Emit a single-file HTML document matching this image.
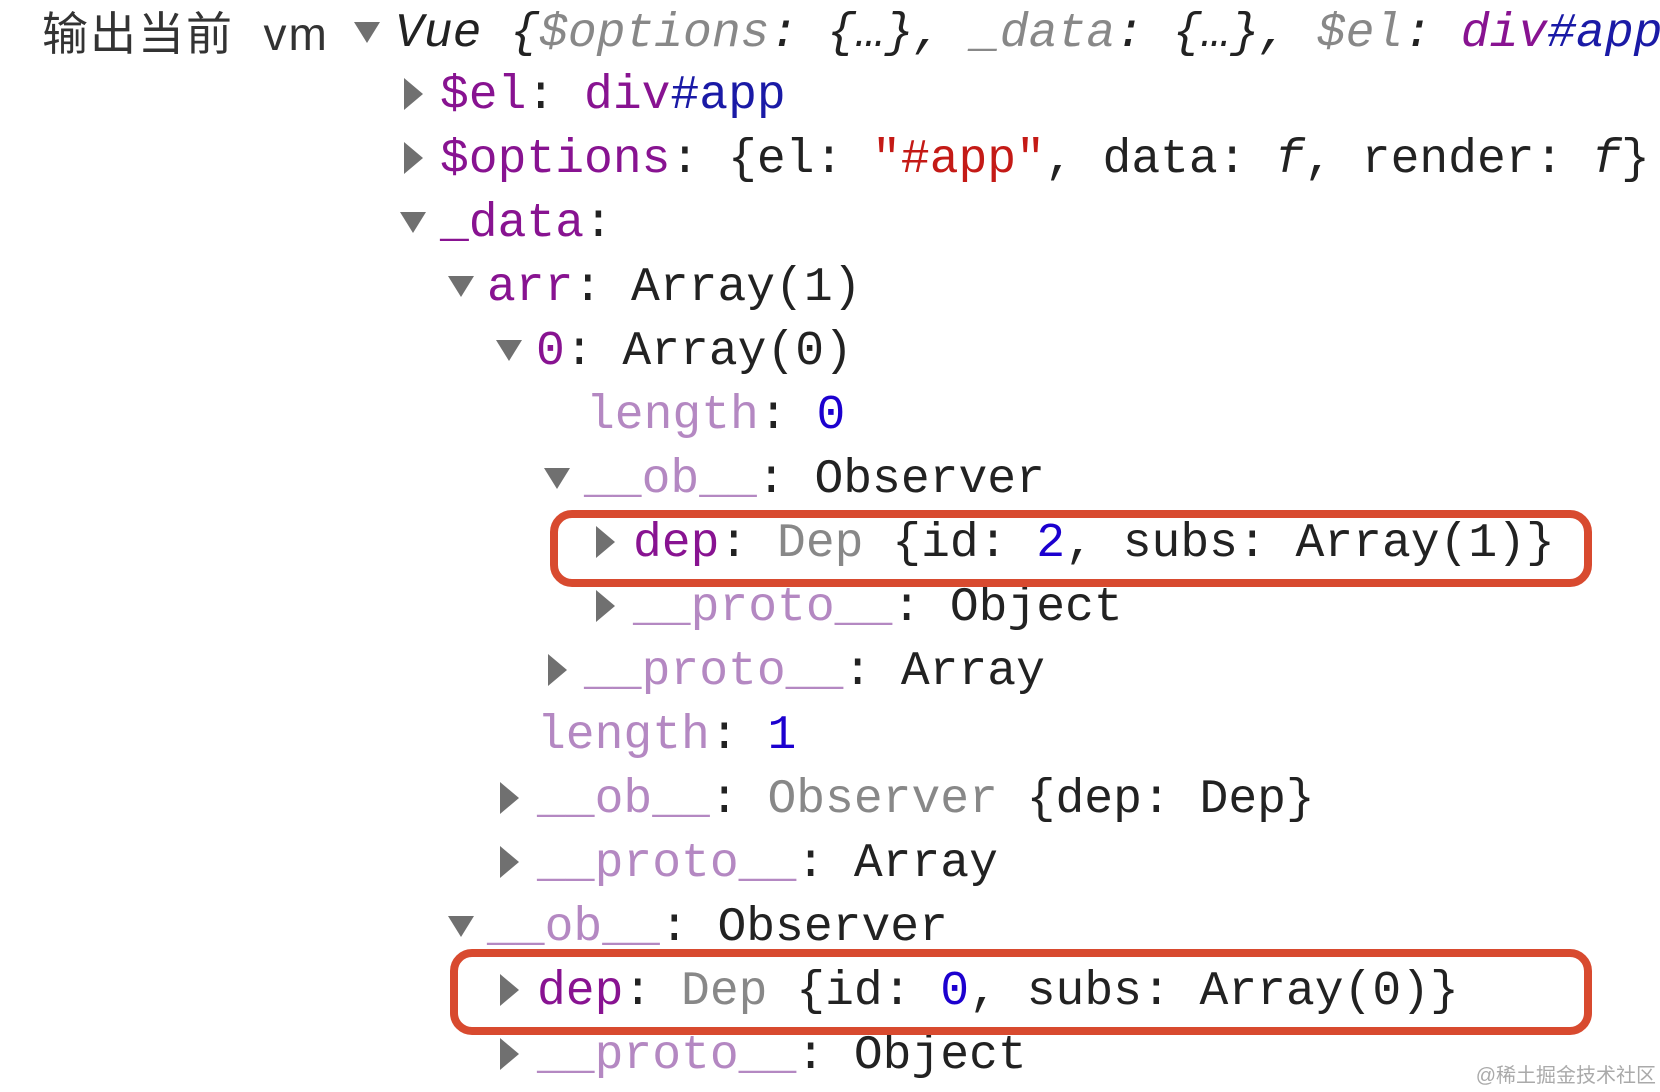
<!DOCTYPE html>
<html><head><meta charset="utf-8"><style>
body{margin:0;width:1660px;height:1092px;background:#fff;overflow:hidden;position:relative;font-family:"Liberation Mono","DejaVu Sans Mono",monospace;font-size:48px;letter-spacing:0px;}
.r{position:absolute;height:64px;line-height:64px;white-space:pre;color:#222;}
.k{color:#881391}.f{color:#b488c2}.g{color:#888}.n{color:#1c00cf}.s{color:#c41a16}
.tr{position:absolute;width:0;height:0;border-top:16px solid transparent;border-bottom:16px solid transparent;border-left:19px solid #707070;}
.td{position:absolute;width:0;height:0;border-left:13px solid transparent;border-right:13px solid transparent;border-top:21px solid #707070;}
.box{position:absolute;border:8px solid #d84a2f;border-radius:22px;box-sizing:border-box;}
</style></head><body>
<div class="r" style="left:42px;top:2px;font-family:'Liberation Sans','Noto Sans CJK SC',sans-serif;font-size:46px;letter-spacing:2px;color:#333">输出当前  vm</div>
<div class="td" style="left:354px;top:22px"></div>
<div class="r" style="left:395px;top:2px;font-style:italic">Vue {<span class="g">$options</span>: {…}, <span class="g">_data</span>: {…}, <span class="g">$el</span>: <span class="k">div</span><span style="color:#1a1aa6">#app</span></div>

<div class="tr" style="left:404px;top:78px"></div>
<div class="r" style="left:440px;top:64px"><span class="k">$el</span>: <span class="k">div</span><span style="color:#1a1aa6">#app</span></div>

<div class="tr" style="left:404px;top:142px"></div>
<div class="r" style="left:440px;top:128px"><span class="k">$options</span>: {el: <span class="s">"#app"</span>, data: <i>f</i>, render: <i>f</i>}</div>

<div class="td" style="left:400px;top:212px"></div>
<div class="r" style="left:440px;top:192px"><span class="k">_data</span>:</div>

<div class="td" style="left:448px;top:276px"></div>
<div class="r" style="left:487px;top:256px"><span class="k">arr</span>: Array(1)</div>

<div class="td" style="left:496px;top:340px"></div>
<div class="r" style="left:536px;top:320px"><span class="k">0</span>: Array(0)</div>

<div class="r" style="left:586px;top:384px"><span class="f">length</span>: <span class="n">0</span></div>

<div class="td" style="left:544px;top:468px"></div>
<div class="r" style="left:584px;top:448px"><span class="f">__ob__</span>: Observer</div>

<div class="tr" style="left:596px;top:526px"></div>
<div class="r" style="left:633px;top:512px"><span class="k">dep</span>: <span class="g">Dep</span> {id: <span class="n">2</span>, subs: Array(1)}</div>

<div class="tr" style="left:596px;top:590px"></div>
<div class="r" style="left:633px;top:576px"><span class="f">__proto__</span>: Object</div>

<div class="tr" style="left:548px;top:654px"></div>
<div class="r" style="left:584px;top:640px"><span class="f">__proto__</span>: Array</div>

<div class="r" style="left:537px;top:704px"><span class="f">length</span>: <span class="n">1</span></div>

<div class="tr" style="left:500px;top:782px"></div>
<div class="r" style="left:537px;top:768px"><span class="f">__ob__</span>: <span class="g">Observer</span> {dep: Dep}</div>

<div class="tr" style="left:500px;top:846px"></div>
<div class="r" style="left:537px;top:832px"><span class="f">__proto__</span>: Array</div>

<div class="td" style="left:448px;top:916px"></div>
<div class="r" style="left:487px;top:896px"><span class="f">__ob__</span>: Observer</div>

<div class="tr" style="left:500px;top:974px"></div>
<div class="r" style="left:537px;top:960px"><span class="k">dep</span>: <span class="g">Dep</span> {id: <span class="n">0</span>, subs: Array(0)}</div>

<div class="tr" style="left:500px;top:1038px"></div>
<div class="r" style="left:537px;top:1024px"><span class="f">__proto__</span>: Object</div>

<div class="box" style="left:550px;top:510px;width:1042px;height:77px"></div>
<div class="box" style="left:450px;top:949px;width:1142px;height:86px"></div>

<div style="position:absolute;right:4px;bottom:4px;font-family:'Liberation Sans','Noto Sans CJK SC',sans-serif;font-size:20px;color:#aaa">@稀土掘金技术社区</div>
</body></html>
